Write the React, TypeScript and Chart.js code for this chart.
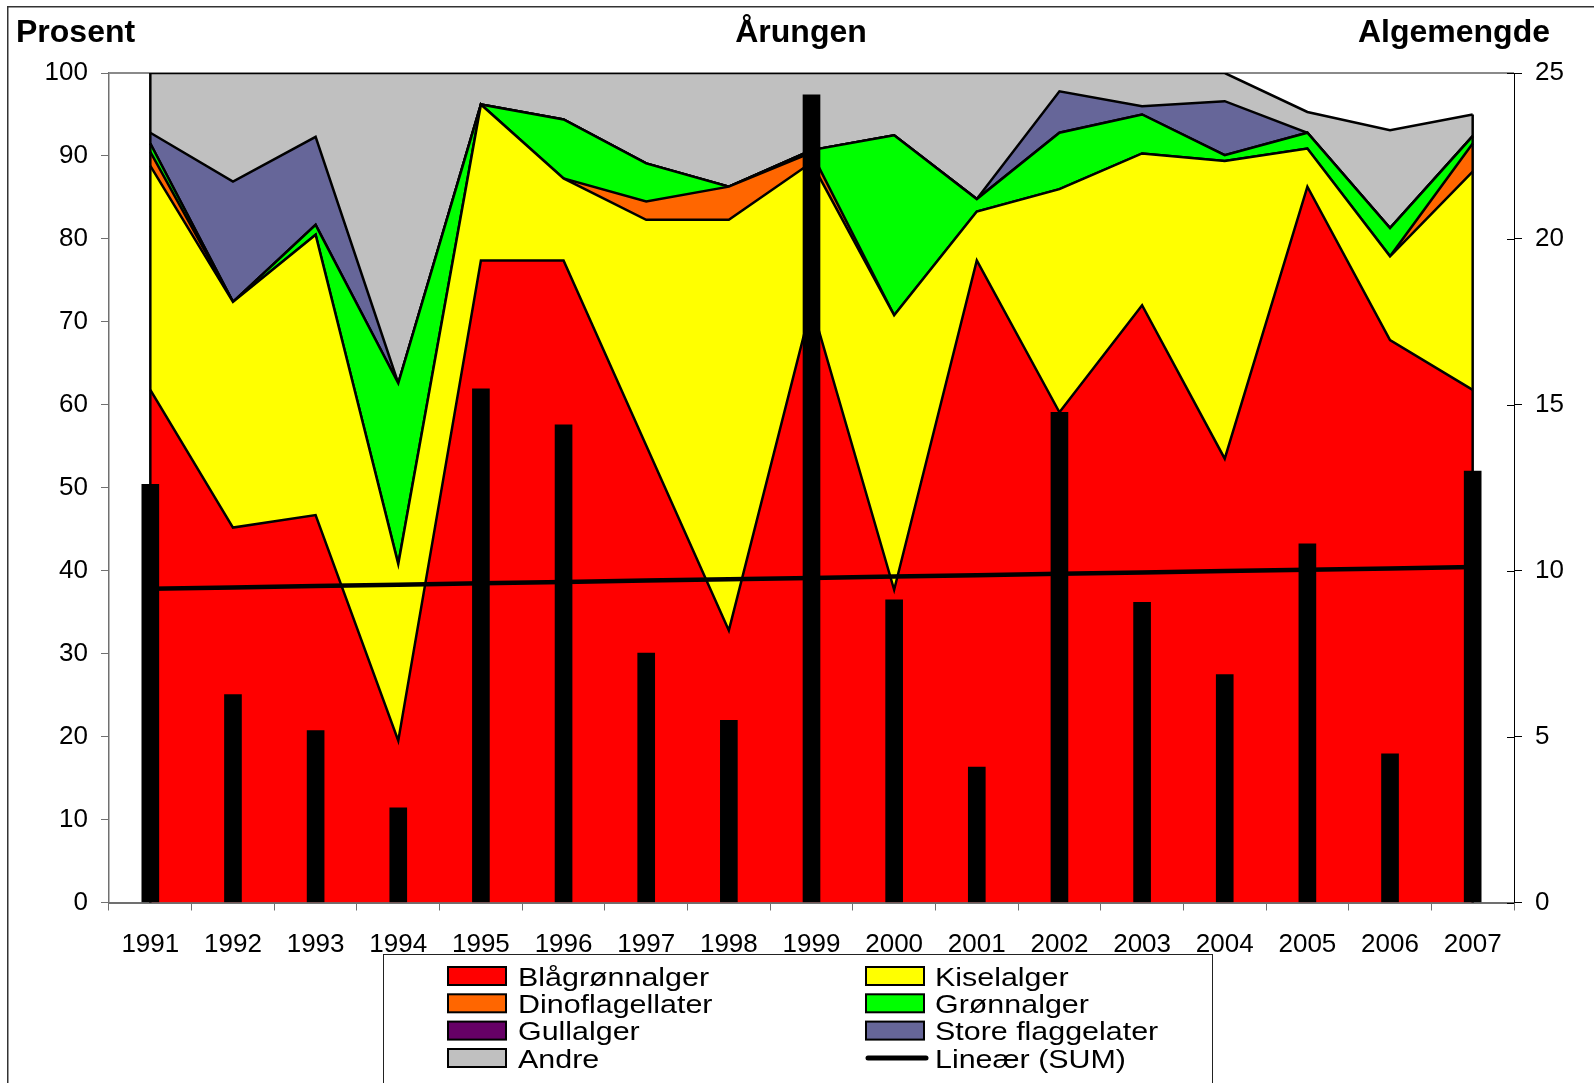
import React, { useEffect, useRef } from 'react';
import { Chart, registerables } from 'chart.js';

Chart.register(...registerables);

// ---------- data ----------
const years = ['1991', '1992', '1993', '1994', '1995', '1996', '1997', '1998', '1999', '2000', '2001', '2002', '2003', '2004', '2005', '2006', '2007'];

// percent of total algal biomass (stacked, left axis)
const blagronnalger = [61.8, 45.2, 46.7, 19.5, 77.4, 77.4, 55.1, 32.8, 72.0, 37.7, 77.4, 59.1, 72.0, 53.5, 86.3, 67.8, 61.8];
const kiselalger = [27.0, 27.2, 33.8, 21.3, 18.8, 9.9, 27.2, 49.5, 17.2, 33.1, 5.9, 26.9, 18.3, 35.9, 4.6, 10.1, 26.3];
const dinoflagellater = [1.7, 0, 0, 0, 0, 0, 2.2, 4.0, 1.2, 0, 0, 0, 0, 0, 0, 0, 3.4];
const gronnalger = [1.0, 0, 1.2, 21.8, 0, 7.1, 4.6, 0, 0.3, 21.7, 1.5, 6.8, 4.7, 0.7, 1.9, 3.4, 0.9];
const gullalger = [0, 0, 0, 0, 0, 0, 0, 0, 0, 0, 0, 0, 0, 0, 0, 0, 0];
const storeFlaggelater = [1.3, 14.5, 10.6, 0, 0, 0, 0, 0, 0, 0, 0, 5.0, 1.0, 6.5, 0, 0, 0];
const andre = [7.2, 13.1, 7.7, 37.4, 3.8, 5.6, 10.9, 13.7, 9.3, 7.5, 15.2, 2.2, 4.0, 3.4, 2.5, 11.8, 2.6];

// total algal amount (bars, right axis)
const sumAlger = [12.6, 6.27, 5.18, 2.85, 15.48, 14.4, 7.52, 5.49, 24.34, 9.12, 4.08, 14.77, 9.05, 6.87, 10.81, 4.48, 13.0];

const seriesLabels = ['Blågrønnalger', 'Kiselalger', 'Dinoflagellater', 'Grønnalger', 'Gullalger', 'Store flaggelater', 'Andre'];
const seriesColors = ['#FF0000', '#FFFF00', '#FF6600', '#00FF00', '#660066', '#666699', '#C0C0C0'];
const trendLabel = 'Lineær (SUM)';

const titleLeft = 'Prosent';
const titleCenter = 'Årungen';
const titleRight = 'Algemengde';

const FONT = "'Liberation Sans', Arial, Helvetica, sans-serif";

// Excel-style linear trend line (least squares fit of the SUM series)
function linearTrend(vals: number[]): number[] {
  const n = vals.length;
  const mx = (n - 1) / 2;
  const my = vals.reduce((a, b) => a + b, 0) / n;
  let sxy = 0;
  let sxx = 0;
  vals.forEach((v, i) => {
    sxy += (i - mx) * (v - my);
    sxx += (i - mx) * (i - mx);
  });
  const b = sxy / sxx;
  return vals.map((_, i) => my + b * (i - mx));
}

export default function App() {
  const ref = useRef<HTMLCanvasElement>(null);

  useEffect(() => {
    document.documentElement.style.overflow = 'hidden';
    const canvas = ref.current!;
    const areaData = [blagronnalger, kiselalger, dinoflagellater, gronnalger, gullalger, storeFlaggelater, andre];
    const trend = linearTrend(sumAlger);
    const BAR_INDEX = areaData.length;

    const datasets: any[] = [
      ...areaData.map((d, i) => ({
        type: 'line',
        label: seriesLabels[i],
        data: d,
        yAxisID: 'y',
        stack: 'alger',
        backgroundColor: seriesColors[i],
        borderColor: '#000000',
        borderWidth: 2.5,
        fill: i === 0 ? 'origin' : '-1',
        pointRadius: 0,
        pointHoverRadius: 0,
        tension: 0,
        order: 3,
      })),
      {
        type: 'bar',
        label: 'SUM',
        data: sumAlger,
        yAxisID: 'y2',
        backgroundColor: '#000000',
        borderWidth: 0,
        barThickness: 17,
        order: 2,
      },
      {
        type: 'line',
        label: trendLabel,
        data: trend,
        yAxisID: 'y2',
        borderColor: '#000000',
        borderWidth: 4.5,
        pointRadius: 0,
        fill: false,
        tension: 0,
        order: 1,
      },
    ];

    const decorPlugin = {
      id: 'decor',
      beforeDraw(chart: any) {
        const c = chart.ctx;
        c.save();
        c.fillStyle = '#FFFFFF';
        c.fillRect(0, 0, chart.width, chart.height);
        // outer chart frame
        c.strokeStyle = '#333333';
        c.lineWidth = 1.5;
        c.beginPath();
        c.moveTo(7.75, chart.height + 5);
        c.lineTo(7.75, 6.75);
        c.lineTo(chart.width + 5, 6.75);
        c.stroke();
        // titles
        c.fillStyle = '#000000';
        c.font = `bold 32px ${FONT}`;
        c.textBaseline = 'alphabetic';
        c.textAlign = 'left';
        c.fillText(titleLeft, 16, 42);
        c.textAlign = 'center';
        c.fillText(titleCenter, 801, 42);
        c.textAlign = 'right';
        c.fillText(titleRight, 1550, 42);
        c.restore();
      },
      beforeDatasetsDraw(chart: any) {
        const c = chart.ctx;
        const a = chart.chartArea;
        c.save();
        c.strokeStyle = '#8A8A8A';
        c.lineWidth = 2;
        c.beginPath();
        c.moveTo(a.left, a.top);
        c.lineTo(a.right, a.top);
        c.stroke();
        c.restore();
      },
      beforeDatasetDraw(chart: any, args: any) {
        if (args.index !== BAR_INDEX) return;
        // vertical outline edges of the stacked areas at first and last category
        const c = chart.ctx;
        const xs = chart.scales.x;
        const ys = chart.scales.y;
        const last = years.length - 1;
        c.save();
        c.strokeStyle = '#000000';
        c.lineWidth = 2.5;
        [0, last].forEach((idx) => {
          let top = 0;
          areaData.forEach((d) => (top += d[idx]));
          const x = xs.getPixelForValue(idx);
          c.beginPath();
          c.moveTo(x, ys.getPixelForValue(0));
          c.lineTo(x, ys.getPixelForValue(top));
          c.stroke();
        });
        c.restore();
      },
      afterDraw(chart: any) {
        const c = chart.ctx;
        const y2 = chart.scales.y2;
        c.save();
        // inner ticks on right axis
        c.strokeStyle = '#000000';
        c.lineWidth = 1;
        y2.ticks.forEach((t: any) => {
          const y = Math.round(y2.getPixelForValue(t.value)) + 0.5;
          c.beginPath();
          c.moveTo(y2.left - 7, y);
          c.lineTo(y2.left, y);
          c.stroke();
        });

        // legend box
        c.strokeStyle = '#222222';
        c.lineWidth = 1;
        c.strokeRect(383.5, 954.5, 829, 200);
        const dsets = chart.data.datasets;
        const rowY = [976, 1003.3, 1030.6, 1058];
        const leftCol = [0, 2, 4, 6];
        const rightCol = [1, 3, 5, -1];
        const drawText = (txt: string, x: number, y: number) => {
          c.save();
          c.translate(x, y + 9.5);
          c.scale(1.17, 1);
          c.fillStyle = '#000000';
          c.font = `26px ${FONT}`;
          c.textAlign = 'left';
          c.textBaseline = 'alphabetic';
          c.fillText(txt, 0, 0);
          c.restore();
        };
        const drawSwatch = (color: string, x: number, y: number) => {
          c.fillStyle = color;
          c.fillRect(x, y - 9, 58, 18);
          c.strokeStyle = '#000000';
          c.lineWidth = 2;
          c.strokeRect(x, y - 9, 58, 18);
        };
        leftCol.forEach((di, r) => {
          drawSwatch(dsets[di].backgroundColor, 448, rowY[r]);
          drawText(dsets[di].label, 518, rowY[r]);
        });
        rightCol.forEach((di, r) => {
          if (di >= 0) {
            drawSwatch(dsets[di].backgroundColor, 866, rowY[r]);
            drawText(dsets[di].label, 935, rowY[r]);
          } else {
            const tds = dsets[dsets.length - 1];
            c.strokeStyle = '#000000';
            c.lineWidth = 5;
            c.lineCap = 'round';
            c.beginPath();
            c.moveTo(868, rowY[r]);
            c.lineTo(926, rowY[r]);
            c.stroke();
            drawText(tds.label, 935, rowY[r]);
          }
        });
        c.restore();
      },
    };

    const tickFont = { family: FONT, size: 26 };

    const chart = new Chart(canvas, {
      type: 'bar',
      data: { labels: years, datasets },
      options: {
        animation: false,
        responsive: false,
        maintainAspectRatio: false,
        devicePixelRatio: 1,
        layout: { padding: { top: 73, left: 0, right: 0, bottom: 0 } },
        plugins: {
          legend: { display: false },
          title: { display: false },
          tooltip: { enabled: false },
        },
        scales: {
          x: {
            type: 'category',
            offset: true,
            stacked: false,
            grid: {
              display: true,
              drawOnChartArea: false,
              drawTicks: true,
              tickLength: 8,
              color: '#707070',
              offset: true,
            },
            border: { display: true, color: '#707070', width: 2 },
            ticks: { color: '#000000', font: tickFont, padding: 19, maxRotation: 0, autoSkip: false },
            afterFit: (s: any) => {
              s.height = 180.5;
            },
          },
          y: {
            position: 'left',
            stacked: true,
            min: 0,
            max: 100,
            ticks: { stepSize: 10, color: '#000000', font: tickFont, padding: 13 },
            grid: { display: true, drawOnChartArea: false, drawTicks: true, tickLength: 8, color: '#707070' },
            border: { display: true, color: '#707070', width: 1.5 },
            afterFit: (s: any) => {
              s.width = 109;
            },
          },
          y2: {
            position: 'right',
            stacked: false,
            min: 0,
            max: 25,
            ticks: { stepSize: 5, color: '#000000', font: tickFont, padding: 13 },
            grid: { display: true, drawOnChartArea: false, drawTicks: true, tickLength: 8, color: '#000000' },
            border: { display: true, color: '#000000', width: 1 },
            afterFit: (s: any) => {
              s.width = 80;
            },
          },
        },
      } as any,
      plugins: [decorPlugin],
    });

    return () => {
      chart.destroy();
    };
  }, []);

  return (
    <div style={{ position: 'absolute', left: 0, top: 0, width: 1594, height: 1083, background: '#FFFFFF' }}>
      <canvas ref={ref} width={1594} height={1083} style={{ display: 'block', width: 1594, height: 1083 }} />
    </div>
  );
}
